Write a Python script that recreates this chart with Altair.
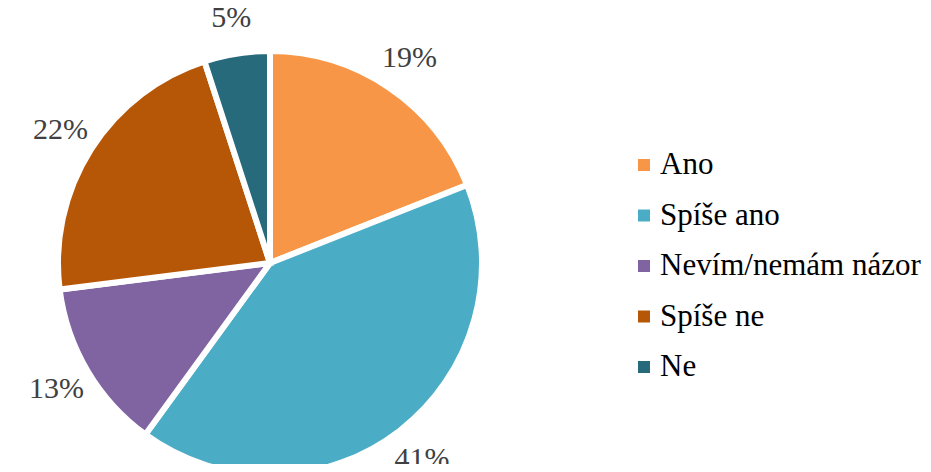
import altair as alt
import pandas as pd

categories = ["Ano", "Spíše ano", "Nevím/nemám názor", "Spíše ne", "Ne"]
values = [19, 41, 13, 22, 5]
labels = ["19%", "41%", "13%", "22%", "5%"]
colors = ["#F79646", "#4BACC6", "#8064A2", "#B65708", "#276A7C"]

SERIF = "Liberation Serif"

df = pd.DataFrame({
    "cat": categories,
    "value": values,
    "label": labels,
    "idx": list(range(len(categories))),
})

color = alt.Color(
    "cat:N",
    scale=alt.Scale(domain=categories, range=colors),
    legend=None,
)

base = alt.Chart(df).encode(
    theta=alt.Theta("value:Q", stack=True),
    order=alt.Order("idx:Q"),
    x=alt.value(262),
    y=alt.value(255),
)

arcs = base.mark_arc(radius=212, stroke="white", strokeWidth=6).encode(color=color)

texts = base.mark_text(
    radius=248, font=SERIF, fontSize=30, color="#404040"
).encode(text="label:N")

# legend drawn as marks on a point scale
leg_y = alt.Y(
    "cat:N", sort=categories, axis=None,
    scale=alt.Scale(type="point", range=[157, 359], padding=0),
)
leg = alt.Chart(df)
leg_sym = leg.mark_square(size=144, opacity=1).encode(
    x=alt.value(636), y=leg_y, color=color
)
leg_txt = leg.mark_text(
    font=SERIF, fontSize=31, color="#000000", align="left", baseline="middle"
).encode(x=alt.value(652), y=leg_y, text="cat:N")

chart = (
    alt.layer(arcs, texts, leg_sym, leg_txt)
    .properties(
        width=915, height=456, padding=0, autosize=alt.AutoSizeParams(type="none")
    )
    .configure_view(stroke=None)
)

chart.save("out.html", embed_options={"renderer": "svg", "actions": False})
